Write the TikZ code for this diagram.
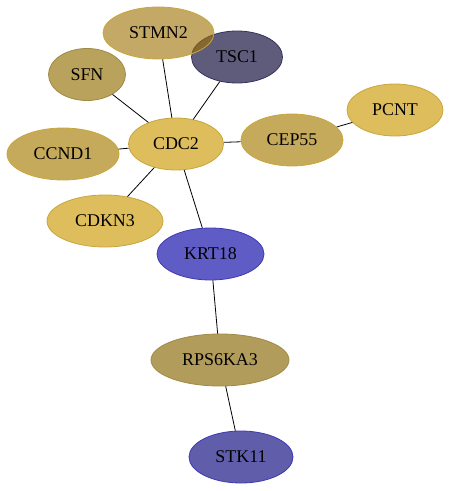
\documentclass[tikz,border=0pt]{standalone}
\usepackage{fontspec}
\setmainfont{Liberation Serif}
\usetikzlibrary{shapes.geometric}
\definecolor{goldA}{HTML}{DEBD5D}
\definecolor{goldB}{HTML}{C6AA5C}
\definecolor{goldC}{HTML}{B9A25C}
\definecolor{goldD}{HTML}{B29C5C}
\definecolor{goldS}{RGB}{157,112,0}
\definecolor{goldLine}{HTML}{C9A63A}
\definecolor{brownLine}{HTML}{A08A45}
\definecolor{slate}{HTML}{5E5C7A}
\definecolor{slateLine}{HTML}{34325E}
\definecolor{blueA}{HTML}{5F5CC6}
\definecolor{blueB}{HTML}{605DAA}
\definecolor{blueLine}{HTML}{3E3AB4}
\begin{document}
\begin{tikzpicture}[x=1bp, y=-1bp]
        % Define styles for shapes
        \tikzset{
            gene/.style={ellipse, draw, line width=0.8bp, inner sep=0pt, minimum height=52bp,
                font=\fontsize{18}{20}\selectfont},
            link/.style={draw, line width=0.8bp}
        }
        \useasboundingbox (0,0) rectangle (449,491);
        % Draw the genes
        \node[gene, fill=slate, draw=slateLine, minimum width=91bp] (tsc1) at (237, 57) {TSC1};
        \node[gene, fill=goldS, fill opacity=0.6, text opacity=1, draw=goldLine, minimum width=111bp] (stmn2) at (158.5, 33) {STMN2};
        \node[gene, fill=goldC, draw=brownLine, minimum width=77bp] (sfn) at (87, 74.5) {SFN};
        \node[gene, fill=goldA, draw=goldLine, minimum width=96bp] (pcnt) at (395, 110) {PCNT};
        \node[gene, fill=goldB, draw=goldLine, minimum width=112bp] (ccnd1) at (63, 154) {CCND1};
        \node[gene, fill=goldA, draw=goldLine, minimum width=95bp] (cdc2) at (176, 144) {CDC2};
        \node[gene, fill=goldB, draw=goldLine, minimum width=102bp] (cep55) at (292, 140) {CEP55};
        \node[gene, fill=goldA, draw=goldLine, minimum width=116bp] (cdkn3) at (105, 221) {CDKN3};
        \node[gene, fill=blueA, draw=blueLine, minimum width=107bp] (krt18) at (210.5, 254) {KRT18};
        \node[gene, fill=goldD, draw=brownLine, minimum width=138bp] (rps6ka3) at (220, 360) {RPS6KA3};
        \node[gene, fill=blueB, draw=blueLine, minimum width=104bp] (stk11) at (241, 457) {STK11};
        % Draw the links
        \draw[link] (cdc2) -- (sfn);
        \draw[link] (cdc2) -- (stmn2);
        \draw[link] (cdc2) -- (tsc1);
        \draw[link] (cdc2) -- (ccnd1);
        \draw[link] (cdc2) -- (cep55);
        \draw[link] (cdc2) -- (cdkn3);
        \draw[link] (cdc2) -- (krt18);
        \draw[link] (cep55) -- (pcnt);
        \draw[link] (krt18) -- (rps6ka3);
        \draw[link] (rps6ka3) -- (stk11);
    \end{tikzpicture}
\end{document}
